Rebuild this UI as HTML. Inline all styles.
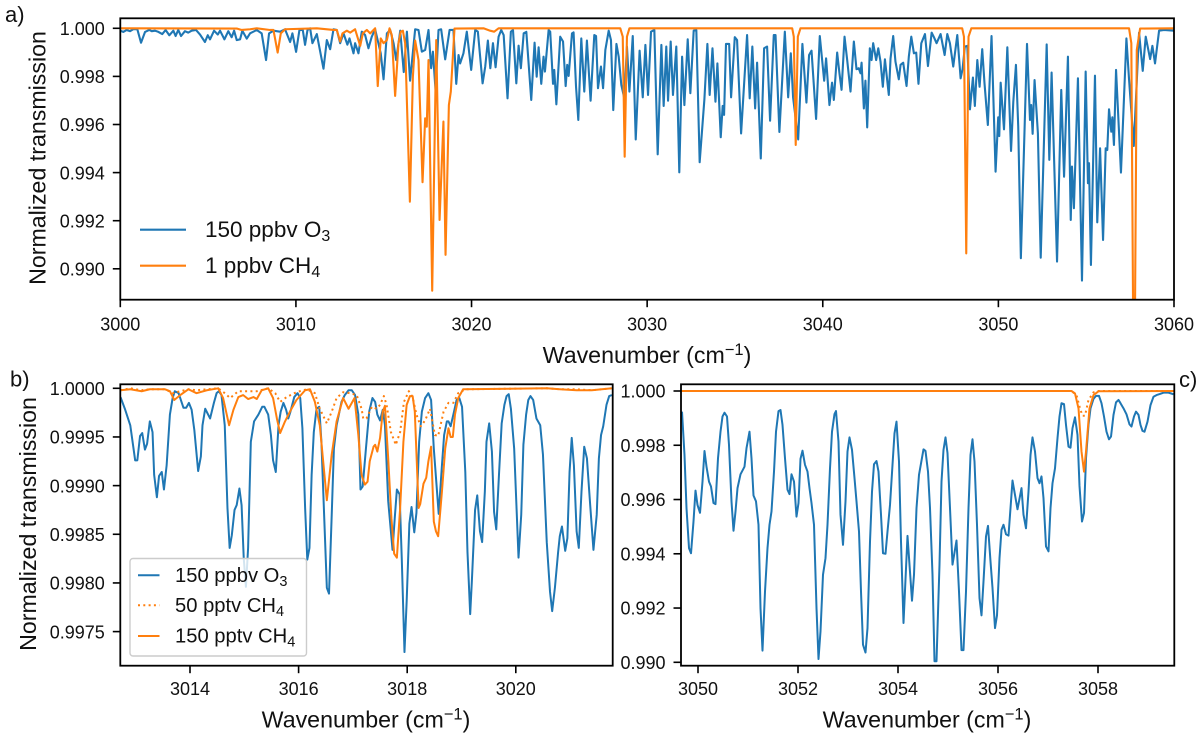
<!DOCTYPE html>
<html lang="en">
<head>
<meta charset="utf-8">
<title>Normalized transmission spectra</title>
<style>
html,body{margin:0;padding:0;background:#fff;}
svg{display:block;font-family:"Liberation Sans",sans-serif;fill:#111;}
.tick{font-size:18px;}
.title{font-size:23.2px;}
.leg-a{font-size:22.5px;}
.leg-b{font-size:20.2px;}
.panel{font-size:22px;}
</style>
</head>
<body>
<svg id="figure" xmlns="http://www.w3.org/2000/svg" width="1200" height="739" viewBox="0 0 1200 739">
<defs>
<clipPath id="clip-a"><rect x="120.3" y="18.3" width="1053.7" height="281.4"/></clipPath>
<clipPath id="clip-b"><rect x="120.3" y="384.3" width="492.4" height="281.4"/></clipPath>
<clipPath id="clip-c"><rect x="681" y="384.3" width="493.3" height="281.4"/></clipPath>
</defs>
<g id="layer-a"></g>
<g id="layer-b"></g>
<g id="layer-c"></g>

<text class="panel" x="5" y="22">a)</text>
<text class="panel" x="10" y="386.5">b)</text>
<text class="panel" x="1179" y="387">c)</text>

<text class="title" x="647" y="363" text-anchor="middle">Wavenumber (cm<tspan dy="-8" font-size="16.5">−1</tspan><tspan dy="8">)</tspan></text>
<text class="title" x="366" y="727.5" text-anchor="middle">Wavenumber (cm<tspan dy="-8" font-size="16.5">−1</tspan><tspan dy="8">)</tspan></text>
<text class="title" x="927" y="727.5" text-anchor="middle">Wavenumber (cm<tspan dy="-8" font-size="16.5">−1</tspan><tspan dy="8">)</tspan></text>
<text class="title" transform="translate(45.5,158) rotate(-90)" text-anchor="middle">Normalized transmission</text>
<text class="title" transform="translate(36,524) rotate(-90)" text-anchor="middle">Normalized transmission</text>

<g>
<line x1="140" y1="229.7" x2="186" y2="229.7" stroke="#1f77b4" stroke-width="2.1"/>
<text class="leg-a" x="205" y="237">150 ppbv O<tspan dy="4" font-size="16">3</tspan></text>
<line x1="140" y1="265.7" x2="186" y2="265.7" stroke="#ff7f0e" stroke-width="2.1"/>
<text class="leg-a" x="205" y="273">1 ppbv CH<tspan dy="4" font-size="16">4</tspan></text>
</g>

<g>
<rect x="130" y="558.5" width="176.5" height="97.5" rx="3" fill="#fff" fill-opacity="0.8" stroke="#ccc" stroke-width="1.4"/>
<line x1="138" y1="575.3" x2="159.5" y2="575.3" stroke="#1f77b4" stroke-width="2"/>
<text class="leg-b" x="175" y="582">150 ppbv O<tspan dy="4" font-size="14.5">3</tspan></text>
<line x1="138" y1="605.3" x2="159.5" y2="605.3" stroke="#ff7f0e" stroke-width="2" stroke-dasharray="2 3.3"/>
<text class="leg-b" x="175" y="612">50 pptv CH<tspan dy="4" font-size="14.5">4</tspan></text>
<line x1="138" y1="636" x2="159.5" y2="636" stroke="#ff7f0e" stroke-width="2"/>
<text class="leg-b" x="175" y="642.5">150 pptv CH<tspan dy="4" font-size="14.5">4</tspan></text>
</g>
</svg>
<script>
const xTicksA=[3000,3010,3020,3030,3040,3050,3060];
const yTicksA=[1.000,0.998,0.996,0.994,0.992,0.990];
const xTicksB=[3014,3016,3018,3020];
const yTicksB=[1.0000,0.9995,0.9990,0.9985,0.9980,0.9975];
const xTicksC=[3050,3052,3054,3056,3058];
const yTicksC=[1.000,0.998,0.996,0.994,0.992,0.990];

const o3PanelA=[[3000,.9999],[3000.17,.99985],[3000.36,.99993],[3000.55,.99988],[3000.74,.99996],[3000.97,.99996],[3001.18,.9994],[3001.41,.99985],[3001.65,.99993],[3001.79,.99988],[3001.98,.9999],[3002.17,.99985],[3002.39,.99976],[3002.58,.99993],[3002.79,.99971],[3003.02,.9999],[3003.15,.99968],[3003.3,.99993],[3003.46,.99968],[3003.68,.99988],[3003.87,.99982],[3004.06,.9999],[3004.31,.99993],[3004.54,.99974],[3004.82,.99943],[3004.98,.99971],[3005.11,.99954],[3005.34,.9999],[3005.55,.99974],[3005.68,.9999],[3005.93,.99954],[3006.15,.99988],[3006.34,.99963],[3006.48,.9999],[3006.63,.99951],[3006.82,.99954],[3006.95,.9999],[3007.2,.99957],[3007.39,.99979],[3007.77,.99993],[3008.05,.99979],[3008.3,.99868],[3008.47,.99979],[3008.72,.9999],[3009.1,.99986],[3009.38,.99996],[3009.67,.99943],[3009.8,.99979],[3010.01,.99902],[3010.2,.99993],[3010.39,.99993],[3010.52,.99931],[3010.66,.99993],[3010.81,1],[3010.94,.99938],[3011.19,.99976],[3011.57,.99832],[3011.76,.99951],[3011.95,.99913],[3012.14,.99996],[3012.33,.99993],[3012.52,.99938],[3012.71,.99979],[3012.93,.99932],[3013.05,.99958],[3013.28,.99896],[3013.37,.99938],[3013.56,.99896],[3013.75,.99986],[3013.94,.99972],[3014.13,.99917],[3014.32,.99965],[3014.51,.99996],[3014.83,.99896],[3014.99,.99788],[3015.18,.99979],[3015.37,.99993],[3015.56,.99938],[3015.71,.99868],[3015.94,.9999],[3016.14,.99818],[3016.32,.99986],[3016.5,.99782],[3016.79,.99996],[3016.98,.99993],[3017.17,.99903],[3017.36,.9991],[3017.55,.99993],[3017.7,.99834],[3017.8,.99903],[3017.95,.99744],[3018.12,.99993],[3018.27,.99996],[3018.5,.99871],[3018.75,.99993],[3018.97,.99993],[3019.13,.99769],[3019.26,.99889],[3019.35,.99854],[3019.54,.99896],[3019.73,.99986],[3019.98,.99827],[3020.21,.99993],[3020.36,.99986],[3020.63,.99771],[3020.78,.99841],[3020.93,.99949],[3021.07,.99834],[3021.22,.99938],[3021.37,.99838],[3021.54,.99965],[3021.69,.99993],[3021.83,.99972],[3022.05,.99709],[3022.24,.99986],[3022.36,.99993],[3022.55,.99771],[3022.68,.99928],[3022.81,.99834],[3022.97,.99979],[3023.12,.99985],[3023.4,.99702],[3023.59,.9994],[3023.71,.99799],[3023.82,.99921],[3023.97,.99769],[3024.1,.99882],[3024.18,.9982],[3024.39,.99993],[3024.48,.99986],[3024.64,.99769],[3024.71,.99827],[3024.83,.99684],[3025.05,.99965],[3025.21,.99945],[3025.36,.9976],[3025.45,.99848],[3025.53,.99802],[3025.72,.99979],[3025.81,.99983],[3025.95,.99757],[3026.08,.99619],[3026.25,.99958],[3026.42,.99737],[3026.57,.99949],[3026.78,.99699],[3026.99,.99972],[3027.09,.99968],[3027.2,.99751],[3027.37,.99841],[3027.49,.99751],[3027.62,.9991],[3027.81,.9999],[3027.94,.99951],[3028.07,.9966],[3028.25,.99935],[3028.38,.99882],[3028.53,.99764],[3028.7,.99709],[3028.85,.99924],[3028.99,.99737],[3029.18,.99968],[3029.35,.99538],[3029.57,.99907],[3029.75,.99713],[3029.9,.99931],[3030.05,.99723],[3030.22,.99986],[3030.41,.99993],[3030.6,.99476],[3030.81,.99931],[3030.94,.99677],[3031.09,.99924],[3031.19,.99699],[3031.34,.99945],[3031.47,.99723],[3031.66,.99924],[3031.83,.99401],[3031.99,.99882],[3032.12,.99681],[3032.31,.99954],[3032.46,.9973],[3032.65,.9999],[3032.8,.99993],[3032.99,.99443],[3033.26,.99705],[3033.43,.99935],[3033.56,.99723],[3033.72,.99917],[3033.89,.99695],[3034,.99854],[3034.19,.99547],[3034.3,.99677],[3034.38,.9964],[3034.49,.99935],[3034.67,.99935],[3034.78,.99713],[3034.99,.99963],[3035.12,.99951],[3035.35,.99563],[3035.69,.99972],[3035.84,.99709],[3035.99,.99924],[3036.15,.99667],[3036.26,.99857],[3036.47,.99459],[3036.66,.99917],[3036.83,.99924],[3037,.99616],[3037.21,.99972],[3037.31,.99972],[3037.53,.99569],[3037.84,.99986],[3038.03,.99713],[3038.18,.99896],[3038.31,.99713],[3038.6,.99538],[3038.84,.99935],[3039.07,.99691],[3039.22,.99889],[3039.36,.99907],[3039.62,.99623],[3039.83,.99968],[3040.08,.99782],[3040.19,.99875],[3040.38,.99681],[3040.53,.99774],[3040.63,.99702],[3040.82,.99899],[3040.95,.99813],[3041.07,.99744],[3041.24,.99965],[3041.39,.99868],[3041.58,.99737],[3041.77,.99945],[3041.92,.9983],[3042.05,.99834],[3042.15,.99813],[3042.21,.99857],[3042.34,.99667],[3042.43,.99782],[3042.53,.99588],[3042.68,.99917],[3042.78,.99868],[3042.87,.99938],[3043.04,.99868],[3043.16,.99917],[3043.29,.99861],[3043.42,.99757],[3043.54,.99871],[3043.76,.99723],[3043.86,.99875],[3044.01,.99968],[3044.14,.99861],[3044.33,.99788],[3044.43,.99848],[3044.58,.99857],[3044.77,.9976],[3044.9,.99882],[3045.04,.99965],[3045.19,.99896],[3045.32,.99899],[3045.45,.99769],[3045.61,.99938],[3045.82,.99976],[3045.99,.99843],[3046.2,.99982],[3046.33,.99963],[3046.48,.99938],[3046.71,.99976],[3046.94,.99889],[3047.09,.99976],[3047.24,.99938],[3047.43,.99841],[3047.66,.99972],[3047.85,.99792],[3047.96,.9983],[3048.09,.99924],[3048.23,.99927],[3048.38,.99663],[3048.55,.99795],[3048.66,.99677],[3048.8,.99868],[3048.93,.99757],[3049.08,.99913],[3049.21,.99771],[3049.4,.99598],[3049.61,.99968],[3049.84,.99404],[3049.99,.9963],[3050.05,.99552],[3050.13,.99774],[3050.32,.9958],[3050.51,.99921],[3050.72,.9949],[3050.85,.99695],[3051,.99848],[3051.13,.99591],[3051.28,.99044],[3051.63,.99935],[3051.8,.99619],[3051.87,.99681],[3051.95,.99561],[3052.06,.99785],[3052.25,.99563],[3052.41,.99046],[3052.75,.99933],[3052.9,.99453],[3053.03,.99816],[3053.34,.9903],[3053.58,.99744],[3053.74,.99383],[3053.96,.99882],[3054.12,.99203],[3054.19,.99425],[3054.3,.99252],[3054.53,.99792],[3054.76,.98951],[3054.97,.9982],[3055.1,.99356],[3055.16,.99439],[3055.27,.99016],[3055.5,.99803],[3055.63,.99193],[3055.79,.99501],[3055.96,.9912],[3056.11,.99501],[3056.2,.99494],[3056.3,.99663],[3056.43,.9957],[3056.49,.9963],[3056.58,.99515],[3056.7,.99827],[3056.98,.994],[3057.29,.99958],[3057.44,.99788],[3057.71,.99511],[3058.01,.99982],[3058.22,.99823],[3058.39,.99965],[3058.64,.99872],[3058.77,.99927],[3058.92,.99854],[3059.15,.9999],[3059.43,.99993],[3060,.9999]];

const ch4PanelA=[[3000,1],[3006.63,.99999],[3006.91,.99993],[3007.39,.99996],[3007.77,1],[3008.53,.99993],[3008.72,.99993],[3008.96,.99899],[3009.14,.99979],[3009.38,.99996],[3011.19,1],[3012.14,.99993],[3012.33,.99993],[3012.52,.99945],[3012.65,.99979],[3012.9,.9999],[3013.09,.99982],[3013.37,.99996],[3013.66,.99927],[3013.81,.99979],[3014.04,.99993],[3014.23,.99979],[3014.51,1],[3014.66,.9976],[3014.83,.99958],[3014.99,.99938],[3015.18,.99951],[3015.33,1],[3015.46,.99972],[3015.65,.99719],[3015.84,.99938],[3015.97,.99986],[3016.09,.9999],[3016.22,.99938],[3016.49,.99279],[3016.66,.99799],[3016.79,.99949],[3016.98,.99868],[3017.21,.9936],[3017.36,.99626],[3017.45,.99591],[3017.55,.99868],[3017.76,.98909],[3017.99,.99951],[3018.18,.99203],[3018.4,.99612],[3018.52,.99058],[3018.71,.99681],[3018.82,.99737],[3019.03,.99999],[3020.68,1],[3021.06,.9999],[3021.29,.99986],[3021.54,1],[3028.47,1],[3028.61,.99965],[3028.72,.99466],[3028.85,.99965],[3028.99,1],[3038.26,1],[3038.35,.99965],[3038.46,.99515],[3038.58,.99965],[3038.73,1],[3047.94,1],[3048.04,.99965],[3048.17,.99064],[3048.3,.99965],[3048.46,1],[3057.44,1],[3057.57,.99938],[3057.67,.98829],[3057.78,.98829],[3057.88,.9991],[3058.07,.99999],[3060,1]];

const o3PanelB=[[3012.72,.99991],[3012.8,.99979],[3012.9,.99962],[3012.99,.99926],[3013.03,.99926],[3013.08,.99951],[3013.12,.99954],[3013.17,.99937],[3013.21,.99943],[3013.26,.99966],[3013.31,.99955],[3013.34,.99911],[3013.39,.99888],[3013.43,.9991],[3013.48,.99914],[3013.52,.99896],[3013.57,.99921],[3013.63,.99973],[3013.68,.9999],[3013.72,.99997],[3013.79,.99995],[3013.88,.9998],[3013.93,.9998],[3013.98,.99985],[3014.03,.99978],[3014.08,.99957],[3014.15,.99915],[3014.2,.9993],[3014.23,.99962],[3014.28,.99979],[3014.37,.99969],[3014.44,.99985],[3014.49,.99995],[3014.53,.99997],[3014.58,.99993],[3014.64,.99962],[3014.69,.99877],[3014.73,.99836],[3014.77,.99849],[3014.82,.99875],[3014.86,.9988],[3014.91,.99897],[3014.95,.9988],[3014.99,.99825],[3015.03,.99796],[3015.07,.99836],[3015.12,.99945],[3015.18,.99966],[3015.26,.99973],[3015.33,.99981],[3015.37,.99981],[3015.44,.99973],[3015.49,.99952],[3015.53,.99926],[3015.58,.99914],[3015.63,.99962],[3015.67,.99976],[3015.72,.99985],[3015.77,.99978],[3015.81,.99969],[3015.85,.99976],[3015.92,.99991],[3015.98,.99995],[3016.03,.9999],[3016.07,.99959],[3016.12,.99877],[3016.16,.99824],[3016.2,.99836],[3016.24,.99911],[3016.28,.99955],[3016.33,.99979],[3016.38,.99981],[3016.42,.99945],[3016.47,.9987],[3016.52,.99795],[3016.56,.99789],[3016.61,.9987],[3016.65,.99938],[3016.7,.99962],[3016.79,.99986],[3016.85,.99993],[3016.92,.99998],[3016.98,.99998],[3017.04,.99993],[3017.1,.99973],[3017.14,.99896],[3017.18,.99899],[3017.24,.99938],[3017.3,.99976],[3017.36,.9999],[3017.41,.99986],[3017.45,.99973],[3017.5,.99967],[3017.55,.99978],[3017.59,.99962],[3017.65,.99884],[3017.73,.99834],[3017.77,.99866],[3017.81,.99896],[3017.86,.99891],[3017.9,.99825],[3017.95,.99729],[3017.99,.99781],[3018.04,.99861],[3018.08,.99878],[3018.13,.99852],[3018.17,.99872],[3018.22,.99945],[3018.27,.99976],[3018.33,.9999],[3018.39,.99995],[3018.44,.99988],[3018.49,.99938],[3018.58,.99871],[3018.64,.99921],[3018.68,.99952],[3018.73,.99966],[3018.76,.99966],[3018.8,.99961],[3018.85,.99973],[3018.91,.99988],[3018.96,.9999],[3019.01,.99981],[3019.07,.99914],[3019.11,.99832],[3019.16,.99768],[3019.19,.99801],[3019.25,.99875],[3019.29,.9989],[3019.34,.99853],[3019.38,.99842],[3019.43,.99894],[3019.46,.99945],[3019.51,.99964],[3019.56,.99935],[3019.6,.99873],[3019.64,.99855],[3019.69,.99911],[3019.74,.99964],[3019.79,.99983],[3019.83,.99992],[3019.87,.99994],[3019.91,.99979],[3019.97,.99938],[3020.05,.99826],[3020.1,.9987],[3020.14,.99942],[3020.19,.99973],[3020.23,.99988],[3020.27,.99992],[3020.32,.99988],[3020.38,.99969],[3020.45,.99962],[3020.5,.99932],[3020.57,.99842],[3020.63,.99791],[3020.67,.99771],[3020.72,.99795],[3020.78,.99832],[3020.81,.99848],[3020.85,.99858],[3020.91,.99833],[3020.95,.99846],[3020.99,.99914],[3021.03,.99949],[3021.07,.99921],[3021.12,.99853],[3021.16,.99836],[3021.21,.99894],[3021.26,.9994],[3021.31,.99928],[3021.37,.9988],[3021.43,.99834],[3021.49,.9987],[3021.53,.99928],[3021.57,.99952],[3021.61,.99961],[3021.67,.99983],[3021.72,.99992],[3021.77,.99993]];

const ch4Low50PanelB=[[3012.72,.99998],[3012.9,1],[3013.11,.99998],[3013.26,.99999],[3013.54,.99999],[3013.69,.99995],[3013.82,.99997],[3013.97,.99999],[3014.12,.99998],[3014.31,.99999],[3014.52,1],[3014.64,.99995],[3014.74,.9999],[3014.89,.99997],[3015.04,.99997],[3015.23,.99997],[3015.44,1],[3015.57,.99995],[3015.66,.99986],[3015.78,.99991],[3015.96,.99996],[3016.15,.99999],[3016.3,.99995],[3016.39,.99979],[3016.52,.99964],[3016.61,.99976],[3016.7,.9999],[3016.82,.99996],[3016.95,.99995],[3017.07,.99993],[3017.16,.99979],[3017.19,.99969],[3017.25,.99969],[3017.35,.99981],[3017.44,.99979],[3017.5,.99983],[3017.57,.99992],[3017.62,.99983],[3017.7,.99955],[3017.79,.99942],[3017.87,.99955],[3017.94,.99986],[3018.03,.99997],[3018.1,.99991],[3018.17,.99973],[3018.25,.99961],[3018.33,.99967],[3018.42,.99979],[3018.51,.99952],[3018.57,.99951],[3018.67,.99976],[3018.76,.99985],[3018.85,.99985],[3018.94,.99995],[3019.07,.99999],[3020.57,1],[3020.81,.99999],[3021.12,.99999],[3021.4,.99998],[3021.77,1]];

const ch4High150PanelB=[[3012.72,.99998],[3012.9,.99999],[3013.11,.99997],[3013.26,.99999],[3013.54,.99999],[3013.63,.99997],[3013.71,.99988],[3013.82,.99993],[3013.97,.99999],[3014.12,.99995],[3014.31,.99998],[3014.52,1],[3014.61,.9999],[3014.72,.99962],[3014.8,.99978],[3014.89,.99991],[3014.98,.99993],[3015.07,.99989],[3015.17,.99991],[3015.23,.99989],[3015.32,.99998],[3015.44,1],[3015.53,.9999],[3015.6,.99969],[3015.66,.99954],[3015.75,.99966],[3015.84,.99976],[3015.96,.99988],[3016.12,.99998],[3016.21,.99999],[3016.3,.99986],[3016.39,.99962],[3016.52,.99885],[3016.61,.99932],[3016.7,.99966],[3016.82,.9999],[3016.92,.99979],[3017.03,.9999],[3017.1,.99952],[3017.16,.99911],[3017.22,.99901],[3017.27,.99904],[3017.31,.99925],[3017.38,.9994],[3017.41,.99942],[3017.45,.99935],[3017.5,.99949],[3017.55,.99976],[3017.59,.99982],[3017.65,.99928],[3017.71,.99866],[3017.76,.9983],[3017.81,.99826],[3017.87,.99877],[3017.93,.99945],[3017.99,.99983],[3018.05,.99992],[3018.1,.99992],[3018.14,.99976],[3018.21,.99877],[3018.24,.99881],[3018.3,.99902],[3018.35,.99908],[3018.39,.99925],[3018.44,.9994],[3018.49,.99863],[3018.53,.99853],[3018.57,.99848],[3018.64,.99894],[3018.7,.99938],[3018.76,.99959],[3018.8,.9995],[3018.84,.9995],[3018.88,.99973],[3018.94,.9999],[3019.03,.99999],[3020.57,1],[3020.81,.99999],[3021.12,.99998],[3021.4,.99998],[3021.77,1]];

const o3PanelC=[[3049.68,.99924],[3049.73,.99764],[3049.77,.99568],[3049.82,.99421],[3049.86,.99402],[3049.91,.99519],[3049.95,.99633],[3049.99,.9958],[3050.04,.99551],[3050.09,.99666],[3050.13,.99779],[3050.17,.99721],[3050.22,.99666],[3050.26,.99648],[3050.31,.99587],[3050.35,.99583],[3050.4,.99752],[3050.45,.9985],[3050.49,.99906],[3050.53,.9992],[3050.58,.99906],[3050.62,.99801],[3050.67,.99593],[3050.71,.99485],[3050.75,.99556],[3050.79,.99642],[3050.85,.99693],[3050.93,.99721],[3050.97,.99789],[3051.03,.9985],[3051.07,.99752],[3051.11,.99615],[3051.16,.99593],[3051.21,.99507],[3051.25,.992],[3051.29,.99043],[3051.34,.99261],[3051.39,.99421],[3051.43,.99507],[3051.47,.99556],[3051.52,.99703],[3051.56,.9985],[3051.61,.99926],[3051.65,.9993],[3051.69,.99875],[3051.74,.99752],[3051.79,.99636],[3051.83,.9962],[3051.87,.99693],[3051.92,.99666],[3051.97,.99537],[3052.01,.99587],[3052.05,.9975],[3052.09,.9978],[3052.14,.99728],[3052.19,.99703],[3052.23,.99642],[3052.27,.99587],[3052.32,.99507],[3052.37,.992],[3052.41,.99012],[3052.45,.99114],[3052.5,.99323],[3052.55,.99384],[3052.59,.99507],[3052.64,.99715],[3052.68,.9985],[3052.73,.99915],[3052.76,.99926],[3052.81,.99813],[3052.85,.99544],[3052.9,.99433],[3052.95,.99593],[3052.99,.99777],[3053.03,.99829],[3053.08,.99783],[3053.13,.99679],[3053.17,.99593],[3053.22,.99482],[3053.26,.99261],[3053.3,.99065],[3053.35,.99036],[3053.39,.99126],[3053.44,.99445],[3053.48,.99629],[3053.52,.9973],[3053.57,.99742],[3053.61,.99703],[3053.66,.99544],[3053.7,.99402],[3053.75,.994],[3053.79,.99482],[3053.84,.9958],[3053.89,.99728],[3053.93,.99844],[3053.97,.99887],[3054.02,.9974],[3054.06,.99445],[3054.11,.99145],[3054.19,.99466],[3054.28,.99227],[3054.32,.99323],[3054.37,.99568],[3054.42,.99691],[3054.51,.99785],[3054.55,.99779],[3054.6,.99703],[3054.64,.99568],[3054.69,.99323],[3054.73,.99004],[3054.77,.99004],[3054.83,.9936],[3054.87,.99666],[3054.91,.99783],[3054.95,.99829],[3054.99,.99771],[3055.04,.99568],[3055.09,.9936],[3055.17,.99449],[3055.22,.99261],[3055.27,.99045],[3055.31,.99045],[3055.36,.99261],[3055.41,.99568],[3055.45,.99764],[3055.49,.99822],[3055.53,.9974],[3055.58,.99507],[3055.63,.99237],[3055.67,.99173],[3055.71,.99298],[3055.76,.99464],[3055.8,.99503],[3055.85,.99372],[3055.89,.99274],[3055.94,.99126],[3055.98,.99173],[3056.03,.99384],[3056.07,.99488],[3056.11,.99507],[3056.16,.99472],[3056.21,.99467],[3056.25,.99568],[3056.29,.9967],[3056.34,.99617],[3056.39,.99564],[3056.47,.99642],[3056.51,.99544],[3056.56,.99494],[3056.61,.99629],[3056.65,.99764],[3056.69,.99829],[3056.74,.99777],[3056.79,.99679],[3056.83,.9966],[3056.87,.99685],[3056.91,.99605],[3056.96,.99427],[3057.01,.99409],[3057.05,.99568],[3057.09,.9966],[3057.14,.99715],[3057.19,.99826],[3057.23,.99906],[3057.27,.99955],[3057.32,.99952],[3057.36,.99875],[3057.41,.99795],[3057.45,.99791],[3057.49,.99863],[3057.54,.99903],[3057.59,.99838],[3057.63,.9965],[3057.68,.99519],[3057.72,.9955],[3057.76,.99752],[3057.81,.99875],[3057.85,.99936],[3057.91,.99971],[3057.96,.99982],[3058.02,.99982],[3058.07,.99955],[3058.12,.99906],[3058.17,.9985],[3058.22,.99822],[3058.26,.99832],[3058.31,.99912],[3058.36,.99958],[3058.41,.99967],[3058.45,.99955],[3058.51,.99936],[3058.57,.99914],[3058.63,.99877],[3058.67,.99869],[3058.72,.99906],[3058.76,.99924],[3058.81,.99912],[3058.85,.99875],[3058.89,.99853],[3058.93,.9985],[3058.99,.99887],[3059.05,.99948],[3059.11,.99979],[3059.17,.99985],[3059.24,.99989],[3059.31,.99994],[3059.41,.99994],[3059.51,.99988]];

const ch4Low50PanelC=[[3049.66,1],[3057.47,1],[3057.57,.99985],[3057.64,.99936],[3057.69,.99909],[3057.74,.99909],[3057.81,.99967],[3057.91,.99995],[3058.01,1],[3059.53,1]];

const ch4High150PanelC=[[3049.66,1],[3057.47,1],[3057.54,.99991],[3057.61,.99936],[3057.67,.99777],[3057.72,.99703],[3057.76,.99777],[3057.83,.99936],[3057.91,.99985],[3058.01,.99999],[3059.53,1]];

const NS='http://www.w3.org/2000/svg';
const BLUE='#1f77b4';
const ORANGE='#ff7f0e';

function linear(d0,d1,r0,r1){
  return function(v){return r0+(v-d0)*(r1-r0)/(d1-d0);};
}

function addSeries(layer,clipId,points,xs,ys,color,width,dash,name){
  const path=document.createElementNS(NS,'path');
  path.setAttribute('d','M'+points.map(function(p){return xs(p[0]).toFixed(2)+' '+ys(p[1]).toFixed(2);}).join('L'));
  path.setAttribute('fill','none');
  path.setAttribute('stroke',color);
  path.setAttribute('stroke-width',width);
  path.setAttribute('stroke-linejoin','round');
  if(dash){path.setAttribute('stroke-dasharray',dash);}
  path.setAttribute('clip-path','url(#'+clipId+')');
  
  
  layer.appendChild(path);
}

function addAxes(layer,box,xs,ys,xTicks,yTicks,yDigits,labelDrop,id){
  const frame=document.createElementNS(NS,'rect');
  frame.setAttribute('x',box.left);
  frame.setAttribute('y',box.top);
  frame.setAttribute('width',box.right-box.left);
  frame.setAttribute('height',box.bottom-box.top);
  frame.setAttribute('fill','none');
  frame.setAttribute('stroke','#000');
  frame.setAttribute('stroke-width','1.8');
  
  
  layer.appendChild(frame);
  xTicks.forEach(function(t){
    const x=xs(t);
    const mark=document.createElementNS(NS,'line');
    mark.setAttribute('x1',x);
    mark.setAttribute('x2',x);
    mark.setAttribute('y1',box.bottom);
    mark.setAttribute('y2',box.bottom+7.5);
    mark.setAttribute('stroke','#000');
    mark.setAttribute('stroke-width','1.6');
    
    
    layer.appendChild(mark);
    const label=document.createElementNS(NS,'text');
    label.setAttribute('x',x);
    label.setAttribute('y',box.bottom+labelDrop);
    label.setAttribute('text-anchor','middle');
    label.setAttribute('class','tick');
    
    
    label.textContent=String(t);
    layer.appendChild(label);
  });
  yTicks.forEach(function(t){
    const y=ys(t);
    const mark=document.createElementNS(NS,'line');
    mark.setAttribute('x1',box.left-7.5);
    mark.setAttribute('x2',box.left);
    mark.setAttribute('y1',y);
    mark.setAttribute('y2',y);
    mark.setAttribute('stroke','#000');
    mark.setAttribute('stroke-width','1.6');
    
    
    layer.appendChild(mark);
    const label=document.createElementNS(NS,'text');
    label.setAttribute('x',box.left-15.5);
    label.setAttribute('y',y+6.7);
    label.setAttribute('text-anchor','end');
    label.setAttribute('class','tick');
    
    
    label.textContent=t.toFixed(yDigits);
    layer.appendChild(label);
  });
}

const boxA={left:120.3,right:1174,top:18.3,bottom:299.7};
const xA=linear(3000,3060,boxA.left,boxA.right);
const yA=linear(1,0.99,28.3,268.8);
const layerA=document.getElementById('layer-a');
addSeries(layerA,'clip-a',o3PanelA,xA,yA,BLUE,2.1,null,'series-o3-150ppbv');
addSeries(layerA,'clip-a',ch4PanelA,xA,yA,ORANGE,2.1,null,'series-ch4-1ppbv');
addAxes(layerA,boxA,xA,yA,xTicksA,yTicksA,3,31,'a');

const boxB={left:120.3,right:612.7,top:384.3,bottom:665.7};
const xB=linear(3014,3020,190,515.8);
const yB=linear(1,0.9975,388.3,631.6);
const layerB=document.getElementById('layer-b');
addSeries(layerB,'clip-b',o3PanelB,xB,yB,BLUE,2,null,'series-o3-150ppbv-zoom');
addSeries(layerB,'clip-b',ch4Low50PanelB,xB,yB,ORANGE,2,'2 3.3','series-ch4-50pptv');
addSeries(layerB,'clip-b',ch4High150PanelB,xB,yB,ORANGE,2,null,'series-ch4-150pptv');
addAxes(layerB,boxB,xB,yB,xTicksB,yTicksB,4,29.5,'b');

const boxC={left:681,right:1174.3,top:384.3,bottom:665.7};
const xC=linear(3050,3058,698,1098);
const yC=linear(1,0.99,391,662.3);
const layerC=document.getElementById('layer-c');
addSeries(layerC,'clip-c',o3PanelC,xC,yC,BLUE,2,null,'series-o3-150ppbv-zoom-c');
addSeries(layerC,'clip-c',ch4Low50PanelC,xC,yC,ORANGE,2,'2 3.3','series-ch4-50pptv-c');
addSeries(layerC,'clip-c',ch4High150PanelC,xC,yC,ORANGE,2,null,'series-ch4-150pptv-c');
addAxes(layerC,boxC,xC,yC,xTicksC,yTicksC,3,29.5,'c');
</script>
</body>
</html>
